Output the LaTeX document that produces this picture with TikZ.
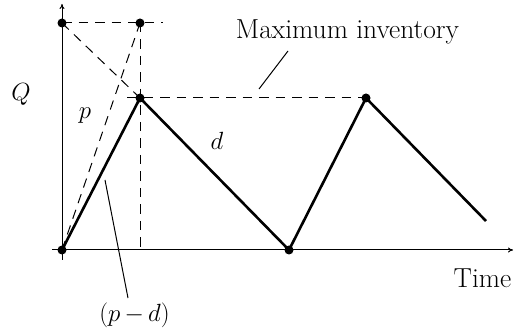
\documentclass[tikz,border=0pt]{standalone}
\usetikzlibrary{arrows.meta}
\begin{document}
\begin{tikzpicture}[x=1pt,y=1pt,
  axis/.style={line width=1pt,-{To[length=5pt,width=5pt]}},
  stock/.style={line width=2.6pt,line join=miter},
  guide/.style={line width=1pt,dash pattern=on 9.5pt off 7pt},
  leader/.style={line width=1pt},
  dot/.style={circle,fill=black,inner sep=0pt,minimum size=9pt},
  lab/.style={font=\fontsize{27.5}{32}\selectfont,inner sep=0pt,anchor=base}]
\useasboundingbox (0,0) rectangle (519,332);
% key points
\coordinate (O) at (62,82);
\coordinate (A) at (62,309);
\coordinate (B) at (140,309);
\coordinate (P) at (140,234);
\coordinate (L) at (289,82);
\coordinate (P2) at (366,234);
\coordinate (E) at (486,111);
\coordinate (xs) at (52,82);
\coordinate (xe) at (513,82);
\coordinate (ys) at (62,72);
\coordinate (ye) at (62,328);
\coordinate (Bb) at (140,82);
\coordinate (Ae) at (163,309);
\coordinate (Ps) at (127,234);
% axes
\draw[axis] (xs) -- (xe);
\draw[axis] (ys) -- (ye);
% guides
\draw[guide] (A) -- (Ae);
\draw[guide] (B) -- (Bb);
\draw[guide] (A) -- (P);
\draw[guide] (O) -- (B);
\draw[guide] (Ps) -- (P2);
% stock curve
\draw[stock] (O) -- (P) -- (L) -- (P2) -- (E);
% dots
\foreach \c in {O,A,B,P,L,P2}{\node[dot] at (\c) {};}
% labels
\node[lab] (maxinv) at (347.5,293) {Maximum inventory};
\node[lab] (q) at (21,231) {$Q$};
\node[lab] (p) at (85,213) {$p$};
\node[lab] (d) at (217,182) {$d$};
\node[lab] (pd) at (134.5,11) {$(p\mkern3mu{-}\mkern3mu d)$};
\node[lab] (time) at (482.5,45) {Time};
% leaders
\coordinate (m1) at (288,281);
\coordinate (m2) at (259,243);
\coordinate (l1) at (128,34);
\coordinate (l2) at (105,152);
\draw[leader] (m1) -- (m2);
\draw[leader] (l1) -- (l2);
\end{tikzpicture}
\end{document}
